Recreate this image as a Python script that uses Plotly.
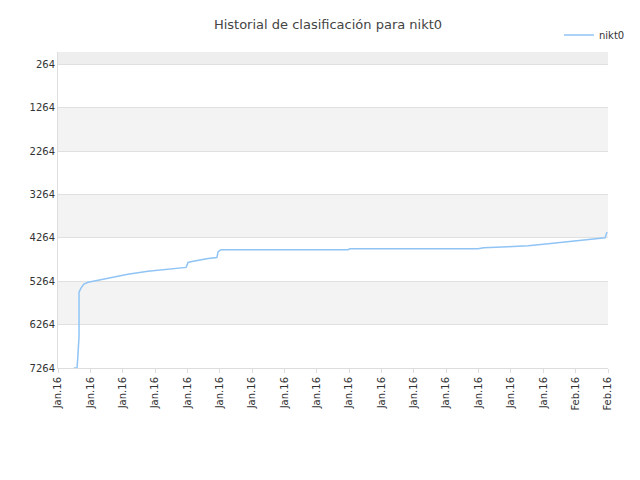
import plotly.graph_objects as go

# posiciones en unidades de marca (0..17) y puesto en la clasificación
x_pos = [0.49, 0.59, 0.61, 0.65, 0.65, 0.71, 0.80, 0.93, 1.24, 1.55, 2.16, 2.78, 3.40,
         3.96, 4.02, 4.14, 4.64, 4.91, 4.95, 5.04, 8.96, 9.03, 12.98, 13.16, 13.91,
         14.53, 15.15, 15.76, 16.38, 16.91, 16.94, 16.97]
rank = [7264, 7264, 7036, 6537, 5514, 5423, 5332, 5287, 5241, 5196, 5105, 5036, 4991,
        4945, 4832, 4809, 4741, 4718, 4582, 4536, 4536, 4514, 4514, 4491, 4468,
        4445, 4400, 4355, 4309, 4264, 4195, 4127]
tick_labels = ["Jan.16"] * 16 + ["Feb.16", "Feb.16"]
y_ticks = [264, 1264, 2264, 3264, 4264, 5264, 6264, 7264]

fig = go.Figure()
fig.add_trace(go.Scatter(x=x_pos, y=rank, mode="lines", name="nikt0",
                         line=dict(color="#90c4f5", width=1.5)))

# bandas alternas
bands = [(-20, 264, "#eeeeee"), (1264, 2264, "#f3f3f3"), (3264, 4264, "#f3f3f3"),
         (5264, 6264, "#f3f3f3")]
for y0, y1, c in bands:
    fig.add_shape(type="rect", xref="paper", x0=0, x1=1, y0=y0, y1=y1,
                  fillcolor=c, line_width=0, layer="below")

fig.update_layout(
    width=640, height=480, plot_bgcolor="white", paper_bgcolor="white",
    margin=dict(l=50, r=40, t=40, b=120),
    title=dict(text="Historial de clasificación para nikt0", x=0.5, y=0.975,
               font=dict(family="DejaVu Sans", size=13, color="#444")),
    font=dict(family="DejaVu Sans", size=10, color="#333"),
    showlegend=True,
    legend=dict(x=1.04, y=1.1, xanchor="right", yanchor="top", font=dict(size=10)),
    xaxis=dict(range=[0, 17], tickvals=list(range(18)), ticktext=tick_labels,
               tickangle=-90, showgrid=False, showline=True, linecolor="#ddd",
               zeroline=False, ticks="outside", ticklen=4, tickcolor="#ddd"),
    yaxis=dict(range=[7264, -20], tickvals=y_ticks, showgrid=True, gridcolor="#e0e0e0",
               showline=True, linecolor="#ddd", zeroline=False),
)
fig.write_html("out.html")
